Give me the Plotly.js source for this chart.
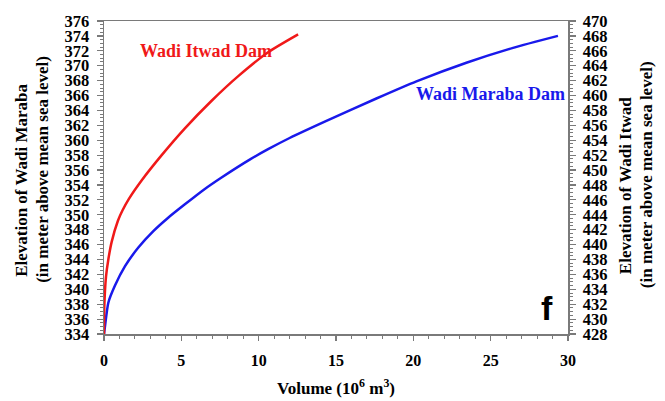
<!DOCTYPE html>
<html><head><meta charset="utf-8">
<script src="https://cdn.plot.ly/plotly-3.0.1.min.js"></script>
<style>html,body{margin:0;padding:0;background:#fff}#chart{width:665px;height:401px}</style>
</head><body><div id="chart"></div>
<script>
// Wadi Maraba Dam (left axis)
const marabaVolume = [0, 0.05, 0.28, 0.71, 1.36, 2.22, 3.19, 4.15, 5.23, 6.41, 7.6, 9.42, 10.61, 12.0, 14.38, 17.61, 20.2, 23.43, 26.45, 29.35];
const marabaElevation = [334, 334.8, 338.2, 340.5, 343.1, 345.6, 347.8, 349.6, 351.4, 353.3, 355.0, 357.4, 358.8, 360.3, 362.6, 365.6, 367.9, 370.4, 372.4, 374.0];
// Wadi Itwad Dam (right axis)
const itwadVolume = [0, 0.02, 0.13, 0.28, 0.5, 0.9, 1.2, 1.6, 2.43, 3.73, 5.23, 6.96, 8.68, 10.61, 12.55];
const itwadElevation = [428, 431.7, 435.7, 438.0, 440.4, 443.2, 444.6, 446.1, 448.6, 452.0, 455.6, 459.3, 462.6, 465.8, 468.2];
// axes
const xRange = [0, 30];
const leftRange = [334, 376];
const rightRange = [428, 470];

const RED = 'rgb(240,25,25)';
const BLUE = 'rgb(25,25,235)';
const AX = '#7a7a7a';
const SERIF = 'Liberation Serif, Times New Roman, serif';

const traces = [
  {x: marabaVolume, y: marabaElevation, type: 'scatter', mode: 'lines', name: 'Wadi Maraba Dam',
   line: {color: BLUE, width: 2.5, shape: 'spline', smoothing: 0.6}, yaxis: 'y'},
  {x: itwadVolume, y: itwadElevation, type: 'scatter', mode: 'lines', name: 'Wadi Itwad Dam',
   line: {color: RED, width: 2.5, shape: 'spline', smoothing: 0.6}, yaxis: 'y2'}
];

const yCommon = {
  dtick: 2, ticks: 'outside', ticklen: 6, tickwidth: 1.2, tickcolor: AX,
  showline: true, linecolor: AX, linewidth: 1.5, showgrid: false, zeroline: false,
  minor: {dtick: 0.5, ticks: 'outside', ticklen: 3, tickwidth: 1, tickcolor: AX, showgrid: false},
  tickfont: {family: SERIF, size: 16.5, color: '#000', weight: 700},
  ticklabelstandoff: 4, fixedrange: true
};

const layout = {
  width: 665, height: 401,
  margin: {l: 104, r: 96.5, t: 21, b: 66.5, pad: 0},
  paper_bgcolor: '#fff', plot_bgcolor: '#fff',
  showlegend: false,
  font: {family: SERIF, size: 17, color: '#000', weight: 700},
  xaxis: {
    range: xRange, dtick: 5, tick0: 0, ticks: 'outside', ticklen: 5, tickwidth: 1.2, tickcolor: AX,
    showline: true, linecolor: AX, linewidth: 1.5, mirror: true, showgrid: false, zeroline: false,
    minor: {dtick: 1, ticks: 'outside', ticklen: 3, tickwidth: 1, tickcolor: AX, showgrid: false},
    tickfont: {family: SERIF, size: 16, color: '#000', weight: 700},
    ticklabelstandoff: 6, fixedrange: true
  },
  yaxis: Object.assign({}, yCommon, {range: leftRange, tick0: 334, side: 'left'}),
  yaxis2: Object.assign({}, yCommon, {range: rightRange, tick0: 428, side: 'right', overlaying: 'y', anchor: 'x'}),
  annotations: [
    {text: 'Elevation of Wadi Maraba', xref: 'paper', yref: 'paper', x: -0.1765, y: 0.4896, textangle: -90,
     showarrow: false, xanchor: 'center', yanchor: 'middle', font: {family: SERIF, size: 17, weight: 700, color: '#000'}},
    {text: '(in meter above mean sea level)', xref: 'paper', yref: 'paper', x: -0.1313, y: 0.5247, textangle: -90,
     showarrow: false, xanchor: 'center', yanchor: 'middle', font: {family: SERIF, size: 17, weight: 700, color: '#000'}},
    {text: 'Elevation of Wadi Itwad', xref: 'paper', yref: 'paper', x: 1.1238, y: 0.4737, textangle: -90,
     showarrow: false, xanchor: 'center', yanchor: 'middle', font: {family: SERIF, size: 17, weight: 700, color: '#000'}},
    {text: '(in meter above mean sea level)', xref: 'paper', yref: 'paper', x: 1.169, y: 0.5088, textangle: -90,
     showarrow: false, xanchor: 'center', yanchor: 'middle', font: {family: SERIF, size: 17, weight: 700, color: '#000'}},
    {text: 'Volume (10<sup>6</sup> m<sup>3</sup>)', xref: 'paper', yref: 'paper', x: 0.4995, y: -0.1707,
     showarrow: false, xanchor: 'center', yanchor: 'middle', font: {family: SERIF, size: 17, weight: 700, color: '#000'}},
    {text: 'Wadi Itwad Dam', xref: 'paper', yref: 'paper', x: 0.2196, y: 0.9053,
     showarrow: false, xanchor: 'center', yanchor: 'middle', font: {family: SERIF, size: 18, weight: 700, color: RED}},
    {text: 'Wadi Maraba Dam', xref: 'paper', yref: 'paper', x: 0.8328, y: 0.7671,
     showarrow: false, xanchor: 'center', yanchor: 'middle', font: {family: SERIF, size: 18, weight: 700, color: BLUE}},
    {text: 'f', xref: 'paper', yref: 'paper', x: 0.9548, y: 0.0845,
     showarrow: false, xanchor: 'center', yanchor: 'middle', font: {family: 'Liberation Sans, Arial, sans-serif', size: 34, weight: 700, color: '#000'}}
  ]
};

Plotly.newPlot('chart', traces, layout, {displayModeBar: false, staticPlot: true});
</script>
</body></html>
